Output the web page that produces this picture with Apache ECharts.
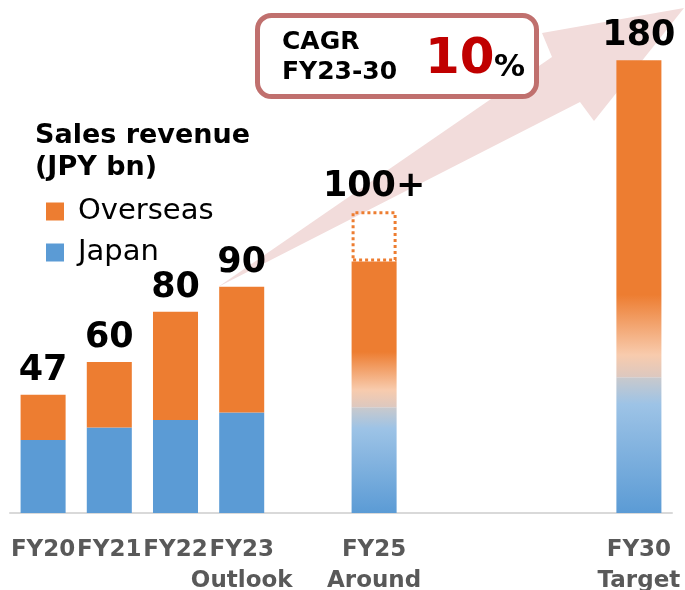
<!DOCTYPE html>
<html>
<head>
<meta charset="utf-8">
<script src="https://cdn.jsdelivr.net/npm/echarts@6/dist/echarts.min.js"></script>
<style>
html,body{margin:0;padding:0;background:#fff;}
#chart{width:685px;height:590px;}
</style>
</head>
<body>
<div id="chart"></div>
<script>
// ---- data ----
const categories = ['FY20', 'FY21', 'FY22', 'FY23\nOutlook', ' ', 'FY25\nAround', '  ', '   ', '    ', 'FY30\nTarget'];
const japan    = [29, 34, 37, 40, null, 42, null, null, null, 54];
const overseas = [18, 26, 43, 50, null, 58, null, null, null, 126];
const upside   = [null, null, null, null, null, 20, null, null, null, null];
const totalLabels = ['47', '60', '80', '90', '', '100+', '', '', '', '180'];
const projected = [false, false, false, false, false, true, false, false, false, true];

// ---- styles ----
const ORANGE = '#ed7d31', BLUE = '#5b9bd5';
const FONT = 'DejaVu Sans';

function grad(stops) {
  return { type: 'linear', x: 0, y: 0, x2: 0, y2: 1,
    colorStops: stops.map(s => ({ offset: s[0], color: s[1] })) };
}
const overseasGrad = {
  5: grad([[0, ORANGE], [0.62, ORANGE], [0.88, '#f8cbad'], [1, '#dcc8c0']]),
  9: grad([[0, ORANGE], [0.74, ORANGE], [0.93, '#f8cbad'], [1, '#dcc8c0']])
};
const japanGrad = grad([[0, '#c9c9cc'], [0.2, '#9dc3e6'], [1, BLUE]]);

const labelStyle = {
  show: true, position: 'top', distance: 6,
  fontFamily: FONT, fontWeight: 'bold', fontSize: 35, lineHeight: 36, color: '#000'
};

function topIndexSeries(i) {
  return upside[i] != null ? 'upside' : 'overseas';
}

const japanData = japan.map((v, i) => {
  if (v == null) return null;
  const item = { value: v };
  if (projected[i]) item.itemStyle = { color: japanGrad };
  return item;
});
const overseasData = overseas.map((v, i) => {
  if (v == null) return null;
  const item = { value: v };
  if (projected[i]) item.itemStyle = { color: overseasGrad[i] };
  if (topIndexSeries(i) === 'overseas' && totalLabels[i]) {
    item.label = Object.assign({}, labelStyle, { formatter: totalLabels[i] });
  }
  return item;
});
const upsideData = upside.map((v, i) => {
  if (v == null) return null;
  const item = { value: v };
  if (totalLabels[i]) item.label = Object.assign({}, labelStyle, { formatter: totalLabels[i] });
  return item;
});

const chart = echarts.init(document.getElementById('chart'), null, { renderer: 'canvas' });
chart.setOption({
  animation: false,
  backgroundColor: '#fff',
  grid: { left: 10, right: 13, top: 10, bottom: 77, containLabel: false, outerBoundsMode: 'none' },
  legend: {
    data: ['Overseas', 'Japan'],
    orient: 'vertical', left: 41, top: 192,
    icon: 'rect', itemWidth: 18, itemHeight: 18, itemGap: 12,
    textStyle: { fontFamily: FONT, fontSize: 29, lineHeight: 28, color: '#000', padding: [0, 0, 0, 9] },
    selectedMode: false
  },
  xAxis: {
    type: 'category', data: categories,
    axisTick: { show: false },
    axisLine: { lineStyle: { color: '#d9d9d9', width: 2 } },
    axisLabel: { interval: 0, margin: 22, fontFamily: FONT, fontWeight: 'bold',
      fontSize: 23, lineHeight: 31, color: '#595959' }
  },
  yAxis: { type: 'value', min: 0, max: 200, show: false, splitLine: { show: false } },
  series: [
    { name: 'Japan', type: 'bar', stack: 'total', barWidth: '68%',
      itemStyle: { color: BLUE }, data: japanData, z: 3 },
    { name: 'Overseas', type: 'bar', stack: 'total', barWidth: '68%',
      itemStyle: { color: ORANGE }, data: overseasData, z: 3 },
    { name: 'Upside', type: 'bar', stack: 'total', barWidth: '68%',
      itemStyle: { color: 'rgba(0,0,0,0)', borderColor: ORANGE, borderWidth: 3, borderType: [3, 3] },
      data: upsideData, z: 3 }
  ],
  graphic: [
    { type: 'polygon', z: 1, silent: true,
      shape: { points: [[218, 287], [552, 57], [542, 33], [684, 8], [594, 121], [580, 102]] },
      style: { fill: '#f2dcdb' } },
    { type: 'text', left: 35, top: 120, z: 10,
      style: { text: 'Sales revenue\n(JPY bn)', fontFamily: FONT, fontWeight: 'bold',
        fontSize: 27, lineHeight: 32, fill: '#000' } },
    { type: 'rect', z: 20,
      shape: { x: 257.5, y: 15.5, width: 279, height: 81, r: 14 },
      style: { fill: '#fff', stroke: '#c0706e', lineWidth: 5 } },
    { type: 'text', z: 21, x: 282, y: 42.5,
      style: { text: 'CAGR', fontFamily: FONT, fontWeight: 'bold', fontSize: 25,
        fill: '#000', verticalAlign: 'middle' } },
    { type: 'text', z: 21, x: 282, y: 72.5,
      style: { text: 'FY23-30', fontFamily: FONT, fontWeight: 'bold', fontSize: 25,
        fill: '#000', verticalAlign: 'middle' } },
    { type: 'text', z: 21, x: 425, y: 60,
      style: { text: '10', fontFamily: FONT, fontWeight: 'bold', fontSize: 50,
        fill: '#c00000', verticalAlign: 'middle' } },
    { type: 'text', z: 21, x: 494, y: 68,
      style: { text: '%', fontFamily: FONT, fontWeight: 'bold', fontSize: 31,
        fill: '#000', verticalAlign: 'middle' } }
  ]
});
</script>
</body>
</html>
